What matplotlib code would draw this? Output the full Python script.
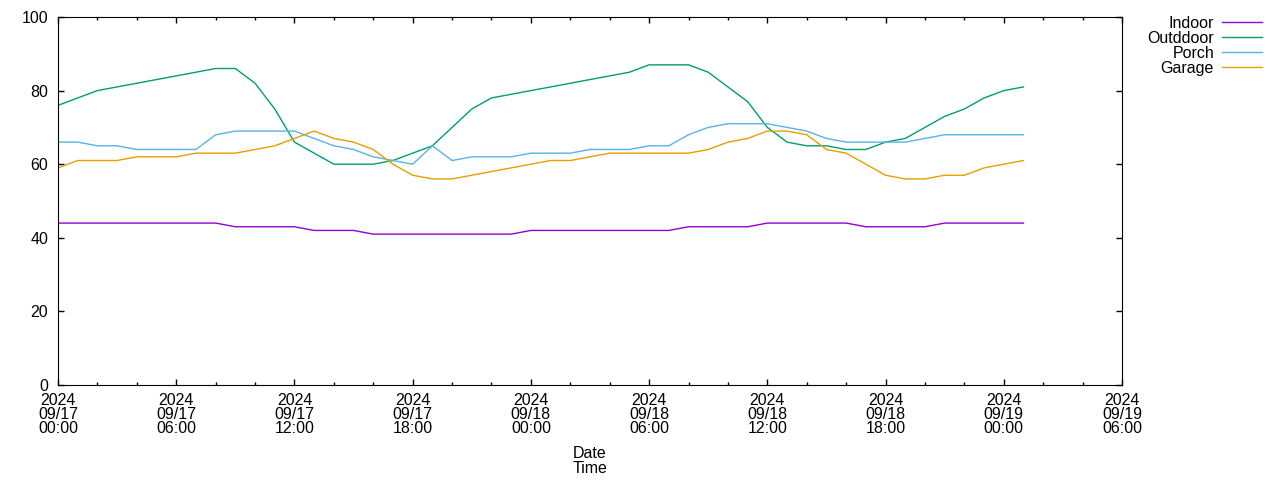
import matplotlib
matplotlib.use('Agg')
import matplotlib.pyplot as plt
import matplotlib.dates as mdates
from matplotlib.ticker import MultipleLocator
import pandas as pd

plt.rcParams['font.family'] = ['Liberation Sans', 'DejaVu Sans']

# hourly readings starting 2024-09-17 00:00
times = pd.date_range('2024-09-17 00:00', periods=50, freq='h')

indoor = [44, 44, 44, 44, 44, 44, 44, 44, 44, 43,
          43, 43, 43, 42, 42, 42, 41, 41, 41, 41,
          41, 41, 41, 41, 42, 42, 42, 42, 42, 42,
          42, 42, 43, 43, 43, 43, 44, 44, 44, 44,
          44, 43, 43, 43, 43, 44, 44, 44, 44, 44]
outdoor = [76, 78, 80, 81, 82, 83, 84, 85, 86, 86,
           82, 75, 66, 63, 60, 60, 60, 61, 63, 65,
           70, 75, 78, 79, 80, 81, 82, 83, 84, 85,
           87, 87, 87, 85, 81, 77, 70, 66, 65, 65,
           64, 64, 66, 67, 70, 73, 75, 78, 80, 81]
porch = [66, 66, 65, 65, 64, 64, 64, 64, 68, 69,
         69, 69, 69, 67, 65, 64, 62, 61, 60, 65,
         61, 62, 62, 62, 63, 63, 63, 64, 64, 64,
         65, 65, 68, 70, 71, 71, 71, 70, 69, 67,
         66, 66, 66, 66, 67, 68, 68, 68, 68, 68]
garage = [59, 61, 61, 61, 62, 62, 62, 63, 63, 63,
          64, 65, 67, 69, 67, 66, 64, 60, 57, 56,
          56, 57, 58, 59, 60, 61, 61, 62, 63, 63,
          63, 63, 63, 64, 66, 67, 69, 69, 68, 64,
          63, 60, 57, 56, 56, 57, 57, 59, 60, 61]

series = [('Indoor', indoor, '#9400d3'),
          ('Outddoor', outdoor, '#009e73'),
          ('Porch', porch, '#56b4e9'),
          ('Garage', garage, '#e69f00')]

fs = 11.5

fig = plt.figure(figsize=(12.8, 4.8), dpi=100)
ax = fig.add_axes([58 / 1280, 1 - 385 / 480, (1122 - 58) / 1280, (385 - 17) / 480])

for name, vals, color in series:
    ax.plot(times, vals, color=color, lw=1, label=name)

ax.set_xlim(pd.Timestamp('2024-09-17 00:00'), pd.Timestamp('2024-09-19 06:00'))
ax.set_ylim(0, 100)

ax.xaxis.set_major_locator(mdates.HourLocator(byhour=[0, 6, 12, 18]))
ax.xaxis.set_minor_locator(mdates.HourLocator(interval=2))
ax.xaxis.set_major_formatter(mdates.DateFormatter('%Y\n%m/%d\n%H:%M'))
ax.yaxis.set_major_locator(MultipleLocator(20))

ax.tick_params(which='both', direction='in', top=True, right=True, width=1)
ax.tick_params(which='major', length=4)
ax.tick_params(which='minor', length=2)
ax.tick_params(axis='x', pad=5.5, labelsize=fs)
ax.tick_params(axis='y', pad=7, labelsize=fs)
for lab in ax.get_xticklabels():
    lab.set_linespacing(0.93)

ax.set_xlabel('Date\nTime', fontsize=fs, linespacing=0.93, labelpad=7.5)

leg = ax.legend(loc='upper right', bbox_to_anchor=(1262 / 1280, 1 - 16 / 480),
                bbox_transform=fig.transFigure, markerfirst=False, frameon=False,
                fontsize=fs, handlelength=2.5, handletextpad=0.5,
                labelspacing=0.0, borderpad=0, borderaxespad=0)

fig.savefig('out.png', dpi=100)
